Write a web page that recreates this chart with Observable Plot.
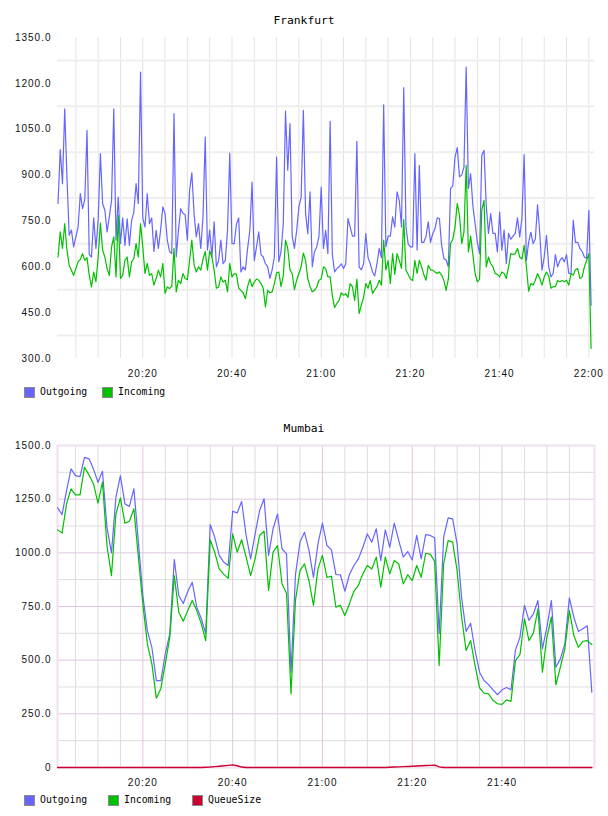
<!DOCTYPE html>
<html><head><meta charset="utf-8">
<script src="https://cdn.jsdelivr.net/npm/d3@7"></script>
<script src="https://cdn.jsdelivr.net/npm/@observablehq/plot@0.6"></script>
<style>
body{margin:0;background:#fff;}
#page{position:relative;width:608px;height:816px;overflow:hidden;background:#fff;}
.title{position:absolute;left:0;width:608px;text-align:center;font-family:"DejaVu Sans Mono",monospace;font-size:11.3px;line-height:13px;color:#000;}
.chart{position:absolute;left:0;}
.item{position:absolute;display:flex;align-items:center;font-family:"DejaVu Sans Mono",monospace;font-size:9.8px;line-height:12px;color:#000;}
.sw{display:inline-block;width:9px;height:9px;border:1px solid #8a8a8a;margin-right:5px;}
</style></head>
<body>
<div id="page">
  <div class="title" style="top:14px">Frankfurt</div>
  <div class="chart" id="top" style="top:28px"></div>
  <div id="legTop"></div>
  <div class="title" style="top:422px">Mumbai</div>
  <div class="chart" id="bot" style="top:437px"></div>
  <div id="legBot"></div>
</div>
<script>
// ---------- Frankfurt (30 s samples starting 20:01:00) ----------
const topStart = "20:01:00";
const topStepSec = 30;
const topOutgoing = [
807,983,872,1117,894,703,720,665,698,730, 839,790,820,1046,640,632,760,660,752,970,
807,785,714,763,817,1117,687,828,676,760, 670,757,670,752,779,872,807,1237,760,730,
839,741,760,650,719,660,720,796,774,687, 650,643,1101,632,719,790,775,770,687,850,
907,774,698,741,660,762,1024,655,720,632, 747,600,620,687,610,621,719,972,676,676,
740,760,583,600,590,660,719,877,620,665, 714,640,632,610,600,562,590,632,959,616,
650,740,1109,916,1068,700,660,719,796,827, 1112,774,708,845,600,650,665,700,861,660,
719,643,1076,640,583,594,600,610,594,610, 758,730,700,700,1010,600,590,610,709,630,
610,583,570,610,660,630,1130,665,700,700, 763,730,845,817,730,1186,730,675,665,665,
970,655,932,680,680,700,747,680,708,725, 760,758,670,627,622,600,856,865,959,990,
894,900,926,1253,856,905,800,741,681,643, 965,981,800,709,774,709,709,649,779,654,
720,610,709,690,700,709,760,698,760,967, 621,680,713,676,690,803,709,589,632,703,
600,567,578,640,600,620,630,616,640,578, 578,752,680,680,660,650,632,627,785,474
];
const topIncoming = [
632,714,660,741,654,605,589,572,594,616, 624,643,621,630,572,534,583,551,632,743,
654,632,594,572,665,698,567,768,562,572, 621,632,567,616,627,676,632,741,665,578,
611,572,578,540,562,589,567,611,513,534, 529,536,660,518,556,545,578,562,558,621,
687,608,583,600,589,625,650,589,652,632, 589,530,534,567,550,556,518,611,567,578,
575,530,523,515,496,535,560,535,550,560, 556,545,530,469,523,515,518,545,580,583,
535,570,687,660,590,578,525,556,578,600, 645,620,560,535,518,523,534,556,560,600,
594,567,567,505,467,480,490,515,507,512, 500,545,535,490,560,447,475,500,545,530,
555,513,525,535,556,540,687,590,620,545, 643,575,643,621,595,754,589,575,560,555,
621,578,621,600,575,556,605,590,589,583, 578,583,572,556,523,560,676,690,730,807,
768,676,713,932,649,700,640,578,551,560, 785,817,600,632,610,600,578,575,567,583,
578,562,600,643,640,643,660,632,625,670, 600,520,545,540,556,578,562,540,567,583,
570,530,535,535,555,551,555,551,556,540, 578,573,590,594,562,567,600,621,643,333
];
const topYTicks = [300,450,600,750,900,1050,1200,1350];
const topGridY = [375,525,675,825,975,1125,1275];
const topXTickLabels = ["20:20","20:40","21:00","21:20","21:40","22:00"];
const topDomain = ["20:00:53","22:01:16"];

// ---------- Mumbai (1 min samples starting 20:01:00) ----------
const botStart = "20:01:00";
const botStepSec = 60;
const botOutgoing = [
1210,1178,1290,1391,1360,1355,1445,1438,1390,1329, 1380,1119,1000,1259,1360,1228,1216,1298,1050,800,
638,560,405,405,531,624,969,801,764,820, 863,747,694,624,1132,1073,988,957,941,1194,
1186,1239,1081,972,1088,1197,1252,988,1112,1181, 1019,995,444,900,1050,1096,1011,886,1042,1138,
1034,1014,898,898,821,898,941,972,1026,1088, 1050,1112,964,1107,1026,1138,1057,980,1006,967,
1081,972,1085,1081,1070,624,1073,1163,1158,1042, 790,634,672,545,444,405,386,362,339,362,
373,362,548,607,755,685,716,778,553,654, 778,467,506,576,790,700,634,646,660,351
];
const botIncoming = [
1107,1092,1228,1298,1270,1270,1399,1363,1321,1232, 1329,1034,894,1181,1256,1138,1147,1205,980,760,
576,484,323,367,484,607,894,723,681,731, 778,731,670,591,1061,1003,925,901,881,1088,
1003,1061,980,894,972,1081,1101,825,1003,1034, 855,812,343,780,917,949,870,755,925,988,
886,891,747,755,708,762,821,848,902,941, 925,980,840,980,902,964,949,855,898,871,
941,886,998,994,960,475,948,1057,1050,917, 700,545,591,475,371,346,343,312,297,294,
315,308,498,526,693,591,627,739,444,607, 700,385,467,553,731,615,560,588,591,573
];
const botQueue = [
0,0,0,0,0,0,0,0,0,0, 0,0,0,0,0,0,0,0,0,0,
0,0,0,0,0,0,0,0,0,0, 0,0,0,1,2,4,6,8,10,12,
8,2,0,0,0,0,0,0,0,0, 0,0,0,0,0,0,0,0,0,0,
0,0,0,0,0,0,0,0,0,0, 0,0,0,0,1,2,3,4,5,6,
7,8,9,10,11,3,0,0,0,0, 0,0,0,0,0,0,0,0,0,0,
0,0,0,0,0,0,0,0,0,0, 0,0,0,0,0,0,0,0,0,0
];
const botYTicks = [0,250,500,750,1000,1250,1500];
const botGridMajorY = [250,500,750,1000,1250];
const botGridMinorY = [125,375,625,875,1125,1375];
const botXTickLabels = ["20:20","20:40","21:00","21:20","21:40"];
const botDomain = ["20:00:59","22:00:36"];

const colors = {Outgoing:"#6666ff", Incoming:"#00c000", QueueSize:"#cc0033"};

// ---------- helpers ----------
function hms(s){const p=s.split(":").map(Number);return new Date(Date.UTC(2000,0,1,p[0],p[1],p[2]||0));}
function series(start, stepSec, cols){
  const t0 = hms(start).getTime();
  const n = cols[Object.keys(cols)[0]].length;
  return d3.range(n).map(i=>{const o={time:new Date(t0+i*stepSec*1000)};for(const k in cols)o[k]=cols[k][i];return o;});
}
const fmt = d3.utcFormat("%H:%M");
const axisStyle = {fontFamily:"'Liberation Sans', Arial, sans-serif", fontSize:"10px", letterSpacing:"1px", color:"#111", background:"transparent", overflow:"visible"};

// ---------- top chart ----------
const topData = series(topStart, topStepSec, {outgoing: topOutgoing, incoming: topIncoming});
const tDom = topDomain.map(hms);
const topGridX = d3.utcMinute.every(5).range(hms("20:05"), new Date(tDom[1].getTime()));
const topPlot = Plot.plot({
  width: 608, height: 350,
  marginLeft: 57, marginRight: 14, marginTop: 9, marginBottom: 20,
  style: axisStyle,
  x: {type:"utc", domain: tDom, ticks: topXTickLabels.map(hms), tickFormat: fmt, tickSize: 0, tickPadding: 11, label: null},
  y: {domain: [300,1350], ticks: topYTicks, tickFormat: d=>d.toFixed(1), tickSize: 0, tickPadding: 6, label: null},
  marks: [
    Plot.ruleX(topGridX, {stroke:"#e3e3e3", strokeWidth:1}),
    Plot.ruleY(topGridY, {stroke:"#eeeeee", strokeWidth:2}),
    Plot.line(topData, {x:"time", y:"outgoing", stroke:colors.Outgoing, strokeWidth:1.2}),
    Plot.line(topData, {x:"time", y:"incoming", stroke:colors.Incoming, strokeWidth:1.2})
  ]
});
document.getElementById("top").appendChild(topPlot);

// ---------- bottom chart ----------
const botData = series(botStart, botStepSec, {outgoing: botOutgoing, incoming: botIncoming, queue: botQueue});
const bDom = botDomain.map(hms);
const botMajorX = botXTickLabels.map(hms);
const majorSet = new Set(botMajorX.map(d=>+d));
const botMinorX = d3.utcMinute.every(5).range(hms("20:05"), hms("22:00")).filter(d=>!majorSet.has(+d));
const botPlot = Plot.plot({
  width: 608, height: 350,
  marginLeft: 57, marginRight: 14, marginTop: 8, marginBottom: 20,
  style: axisStyle,
  x: {type:"utc", domain: bDom, ticks: botMajorX, tickFormat: fmt, tickSize: 0, tickPadding: 11, label: null},
  y: {domain: [0,1500], ticks: botYTicks, tickFormat: d=> d===0 ? "0" : d.toFixed(1), tickSize: 0, tickPadding: 6, label: null},
  marks: [
    Plot.ruleX(botMinorX, {stroke:"#dddddd", strokeWidth:1}),
    Plot.ruleY(botGridMinorY, {stroke:"#dddddd", strokeWidth:1}),
    Plot.ruleX(botMajorX, {stroke:"#dfc6df", strokeWidth:1}),
    Plot.ruleY(botGridMajorY, {stroke:"#dfc6df", strokeWidth:1}),
    Plot.frame({stroke:"#f0e0f0", strokeWidth:2}),
    Plot.line(botData, {x:"time", y:"outgoing", stroke:colors.Outgoing, strokeWidth:1.2}),
    Plot.line(botData, {x:"time", y:"incoming", stroke:colors.Incoming, strokeWidth:1.2}),
    Plot.line(botData, {x:"time", y:"queue", stroke:colors.QueueSize, strokeWidth:1.4})
  ]
});
document.getElementById("bot").appendChild(botPlot);

// ---------- legends ----------
function legend(el, names, lefts, top){
  names.forEach((n,i)=>{
    const d=document.createElement("div");d.className="item";d.style.left=lefts[i]+"px";d.style.top=top+"px";
    const s=document.createElement("span");s.className="sw";s.style.background=colors[n];
    d.appendChild(s);d.appendChild(document.createTextNode(n));el.appendChild(d);
  });
}
legend(document.getElementById("legTop"), ["Outgoing","Incoming"], [24,102], 386);
legend(document.getElementById("legBot"), ["Outgoing","Incoming","QueueSize"], [24,108,192], 794);
</script>
</body></html>
